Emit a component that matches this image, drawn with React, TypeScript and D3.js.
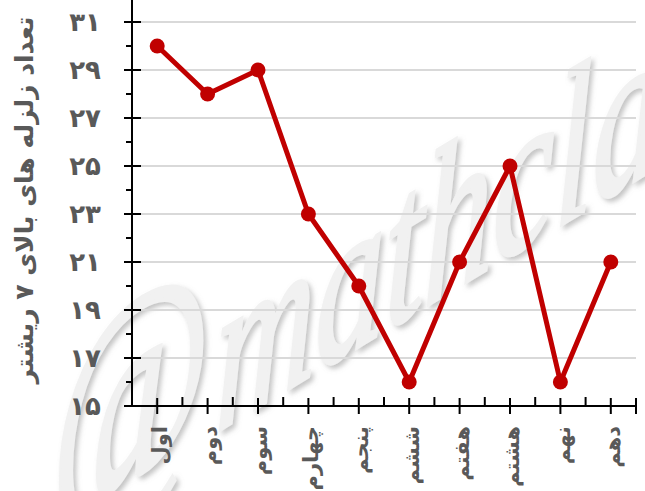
import React from "react";
import * as d3 from "d3";

const categories = ["اول", "دوم", "سوم", "چهارم", "پنجم", "ششم", "هفتم", "هشتم", "نهم", "دهم"];
const values = [30, 28, 29, 23, 20, 16, 21, 25, 16, 21];
const majorTicks = [15, 17, 19, 21, 23, 25, 27, 29, 31];
const minorTicks = [16, 18, 20, 22, 24, 26, 28, 30, 32];
const yTitle = "تعداد زلزله های بالای ۷ ریشتر";
const watermarkAt = "@";
const watermarkWord = "mathclass";

const W = 645;
const H = 491;

const toFa = (n: number) => String(n).replace(/\d/g, (d) => "۰۱۲۳۴۵۶۷۸۹"[+d]);

export default function App() {
  const x = d3.scaleBand<string>().domain(categories).range([132, 636]).padding(0);
  const y = d3.scaleLinear().domain([15, 31]).range([406, 22]);
  const cx = (c: string) => (x(c) as number) + x.bandwidth() / 2;
  const line = d3
    .line<number>()
    .x((_, i) => cx(categories[i]))
    .y((d) => y(d));
  const fa = "'DejaVu Sans', sans-serif";
  const gray = "#595959";
  const boundaries = categories.map((c) => x(c) as number).concat([636]);

  return (
    <svg
      width={W}
      height={H}
      style={{ position: "absolute", left: 0, top: 0, background: "#fff" }}
    >
      <defs>
        <filter id="wm" x="-10%" y="-10%" width="120%" height="120%">
          <feDropShadow dx="3" dy="3" stdDeviation="2.5" floodColor="#888" floodOpacity="0.5" />
        </filter>
      </defs>
      <rect width={W} height={H} fill="#fff" />
      <g filter="url(#wm)">
        <text
          transform="translate(50,532) skewY(-31) scale(0.645,1)"
          fontFamily="'Liberation Serif', serif"
          fontStyle="italic"
          fill="#f1f1f1"
          stroke="#f1f1f1"
          strokeWidth={4}
        >
          <tspan fontSize={270}>{watermarkAt}</tspan>
          <tspan fontSize={215} dx={8}>
            {watermarkWord}
          </tspan>
        </text>
      </g>
      {majorTicks
        .filter((t) => t !== 15)
        .map((t) => (
          <line key={"g" + t} x1={132} x2={636} y1={y(t)} y2={y(t)} stroke="#d9d9d9" strokeWidth={2} />
        ))}
      <line x1={132} x2={132} y1={0} y2={407} stroke="#000" strokeWidth={2} />
      <line x1={131} x2={637} y1={406} y2={406} stroke="#000" strokeWidth={2} />
      {majorTicks.map((t) => (
        <line key={"ym" + t} x1={124} x2={141} y1={y(t)} y2={y(t)} stroke="#000" strokeWidth={2} />
      ))}
      {minorTicks.map((t) => (
        <line key={"yn" + t} x1={126} x2={132} y1={y(t)} y2={y(t)} stroke="#000" strokeWidth={2} />
      ))}
      {categories.map((c) => (
        <line key={"xm" + c} x1={cx(c)} x2={cx(c)} y1={398} y2={414} stroke="#000" strokeWidth={2} />
      ))}
      {boundaries.slice(1, -1).map((b, i) => (
        <line key={"xn" + i} x1={b} x2={b} y1={397} y2={406} stroke="#000" strokeWidth={2} />
      ))}
      <line x1={636} x2={636} y1={398} y2={414} stroke="#000" strokeWidth={2} />
      {majorTicks.map((t) => (
        <text
          key={"yl" + t}
          x={101}
          y={y(t)}
          dy="0.35em"
          textAnchor="end"
          fontFamily={fa}
          fontWeight="bold"
          fontSize={26}
          fill={gray}
        >
          {toFa(t)}
        </text>
      ))}
      <text
        transform={`translate(24,200) rotate(-90)`}
        textAnchor="middle"
        dy="0.35em"
        fontFamily={fa}
        fontWeight="bold"
        fontSize={25}
        fill={gray}
      >
        {yTitle}
      </text>
      {categories.map((c) => (
        <text
          key={"xl" + c}
          transform={`translate(${cx(c) + 2},426) rotate(-90)`}
          textAnchor="end"
          dy="0.35em"
          fontFamily={fa}
          fontWeight="bold"
          fontSize={21}
          fill={gray}
        >
          {c}
        </text>
      ))}
      <path d={line(values) as string} fill="none" stroke="#c00000" strokeWidth={5} strokeLinejoin="round" />
      {values.map((v, i) => (
        <circle key={"p" + i} cx={cx(categories[i])} cy={y(v)} r={7.5} fill="#c00000" />
      ))}
    </svg>
  );
}
